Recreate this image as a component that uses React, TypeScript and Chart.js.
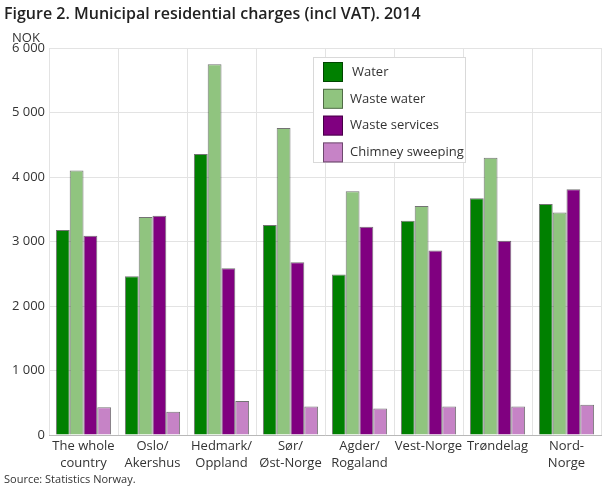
import React, { useEffect, useRef } from "react";
import { Chart, registerables } from "chart.js";

Chart.register(...registerables);

const categories: string[][] = [
  ["The whole", "country"],
  ["Oslo/", "Akershus"],
  ["Hedmark/", "Oppland"],
  ["Sør/", "Øst-Norge"],
  ["Agder/", "Rogaland"],
  ["Vest-Norge"],
  ["Trøndelag"],
  ["Nord-", "Norge"],
];
const water = [3180, 2460, 4355, 3255, 2490, 3320, 3670, 3580];
const wasteWater = [4100, 3380, 5750, 4760, 3780, 3550, 4300, 3450];
const wasteServices = [3090, 3400, 2585, 2680, 3230, 2860, 3010, 3810];
const chimneySweeping = [430, 360, 527, 440, 410, 440, 440, 470];
const seriesNames = ["Water", "Waste water", "Waste services", "Chimney sweeping"];
const seriesColors = ["#008000", "#90c47f", "#800080", "#c683c6"];
const yTicks = [0, 1000, 2000, 3000, 4000, 5000, 6000];

const FONT = "'Open Sans', sans-serif";

const legendPlugin = {
  id: "boxLegend",
  afterDatasetsDraw(chart: any) {
    const ctx = chart.ctx;
    const x = 313, y = 57, w = 153, h = 106;
    ctx.save();
    ctx.fillStyle = "#ffffff";
    ctx.fillRect(x, y, w, h);
    ctx.strokeStyle = "#d9d9d9";
    ctx.lineWidth = 1;
    ctx.strokeRect(x + 0.5, y + 0.5, w - 1, h - 1);
    ctx.font = `13px ${FONT}`;
    ctx.textBaseline = "middle";
    ctx.textAlign = "left";
    seriesNames.forEach((name, i) => {
      const cy = 72 + i * 26.8;
      ctx.fillStyle = seriesColors[i];
      ctx.fillRect(323, cy - 10, 20, 20);
      ctx.strokeStyle = "rgba(0,0,0,0.45)";
      ctx.strokeRect(323.5, cy - 9.5, 19, 19);
      ctx.fillStyle = "#333333";
      ctx.fillText(name, i === 0 ? 352 : 350, cy);
    });
    ctx.restore();
  },
};

export default function App() {
  const ref = useRef<HTMLCanvasElement>(null);
  useEffect(() => {
    document.body.style.margin = "0";
    const data = [water, wasteWater, wasteServices, chimneySweeping];
    const chart = new Chart(ref.current!, {
      type: "bar",
      data: {
        labels: categories,
        datasets: seriesNames.map((n, i) => ({
          label: n,
          data: data[i],
          backgroundColor: seriesColors[i],
          borderColor: "rgba(0,0,0,0.55)",
          borderWidth: 1,
          categoryPercentage: 0.8,
          barPercentage: 1.0,
        })),
      },
      options: {
        animation: false,
        responsive: false,
        maintainAspectRatio: false,
        layout: { padding: { top: 48, right: 9, left: 0, bottom: 0 } },
        plugins: { legend: { display: false }, tooltip: { enabled: false }, title: { display: false } },
        scales: {
          x: {
            grid: { color: "#e3e3e3", drawTicks: false, offset: true },
            border: { color: "#b8b8b8" },
            ticks: { color: "#333", font: { family: FONT, size: 13, lineHeight: 1.3 }, padding: 3, maxRotation: 0, autoSkip: false },
            afterFit(scale: any) { scale.height = 53; },
          },
          y: {
            min: 0,
            max: 6000,
            afterBuildTicks(scale: any) { scale.ticks = yTicks.map((v) => ({ value: v })); },
            grid: { color: "#e3e3e3", drawTicks: false },
            border: { display: false },
            ticks: {
              color: "#333",
              font: { family: FONT, size: 13 },
              padding: 4,
              callback: (v: any) => String(v).replace(/\B(?=(\d{3})+(?!\d))/g, " "),
            },
            afterFit(scale: any) { scale.width = 49; },
          },
        },
      },
      plugins: [legendPlugin],
    });
    return () => chart.destroy();
  }, []);
  return (
    <div style={{ position: "relative", width: 610, height: 488, fontFamily: FONT, color: "#333" }}>
      <canvas ref={ref} width={610} height={488} style={{ position: "absolute", left: 0, top: 0 }} />
      <div style={{ position: "absolute", left: 4, top: 2, fontSize: 16, fontWeight: 600, color: "#222", whiteSpace: "nowrap" }}>
        Figure 2. Municipal residential charges (incl VAT). 2014
      </div>
      <div style={{ position: "absolute", left: 12, top: 28, fontSize: 13 }}>NOK</div>
      <div style={{ position: "absolute", left: 4, top: 471, fontSize: 11 }}>Source: Statistics Norway.</div>
    </div>
  );
}
